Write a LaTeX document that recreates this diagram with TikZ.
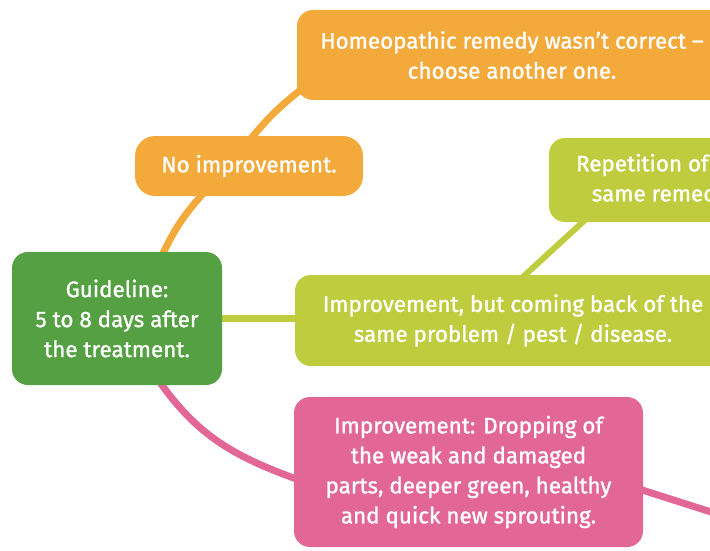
\documentclass[tikz,border=0pt]{standalone}
\usepackage{fontspec}
\setmainfont{Fira Sans}[FakeBold=1.2]
\usepackage{tikz}
\usetikzlibrary{backgrounds}
\definecolor{orangebox}{RGB}{244,169,59}
\definecolor{limebox}{RGB}{190,204,62}
\definecolor{greenbox}{RGB}{84,160,66}
\definecolor{pinkbox}{RGB}{226,103,150}

\begin{document}
\begin{tikzpicture}[x=1pt,y=1pt,
      every node/.style={font=\fontsize{22.4}{30}\selectfont,text=white},
      card/.style={rounded corners=16pt,inner sep=0pt,align=center},
      link/.style={line width=7pt,shorten <=-6pt,shorten >=-6pt}]
      \useasboundingbox (0,0) rectangle (710,-551);
      \clip (0,0) rectangle (710,-551);
      \node[card,fill=greenbox,minimum width=210pt,minimum height=133pt] (guide) at (117,-318.5) {Guideline:\\5 to 8 days after\\the treatment.};
      \node[card,fill=orangebox,rounded corners=20pt,minimum width=228pt,minimum height=60pt] (noimp) at (249,-166) {No improvement.};
      \node[card,fill=orangebox,minimum width=430pt,minimum height=90pt] (homeo) at (512,-55) {Homeopathic remedy wasn't correct --\\choose another one.};
      \node[card,fill=limebox,minimum width=436pt,minimum height=91pt] (impr) at (513,-320.5) {Improvement, but coming back of the\\same problem / pest / disease.};
      \node[card,fill=limebox,minimum width=226pt,minimum height=84pt] (rep) at (662,-180) {Repetition of the\\same remedy.};
      \node[card,fill=pinkbox,minimum width=349pt,minimum height=150pt] (pink) at (468.5,-472) {Improvement: Dropping of\\the weak and damaged\\parts, deeper green, healthy\\and quick new sprouting.};
      \coordinate (pinkend) at (730,-518);
      \begin{scope}[on background layer]
        \draw[link,orangebox] (guide.55) to[bend left=8] (noimp.212);
        \draw[link,orangebox] (noimp.82) to[bend left=6] (homeo.190);
        \draw[link,limebox] (guide.east) -- (guide.east -| impr.west);
        \draw[link,limebox,line width=6pt] (impr.75) -- (rep.208);
        \draw[link,pinkbox] (guide.-56) to[out=-55,in=160] (pink.182);
        \draw[link,pinkbox] (pink.-6.5) -- (pinkend);
      \end{scope}
    \end{tikzpicture}
\end{document}
